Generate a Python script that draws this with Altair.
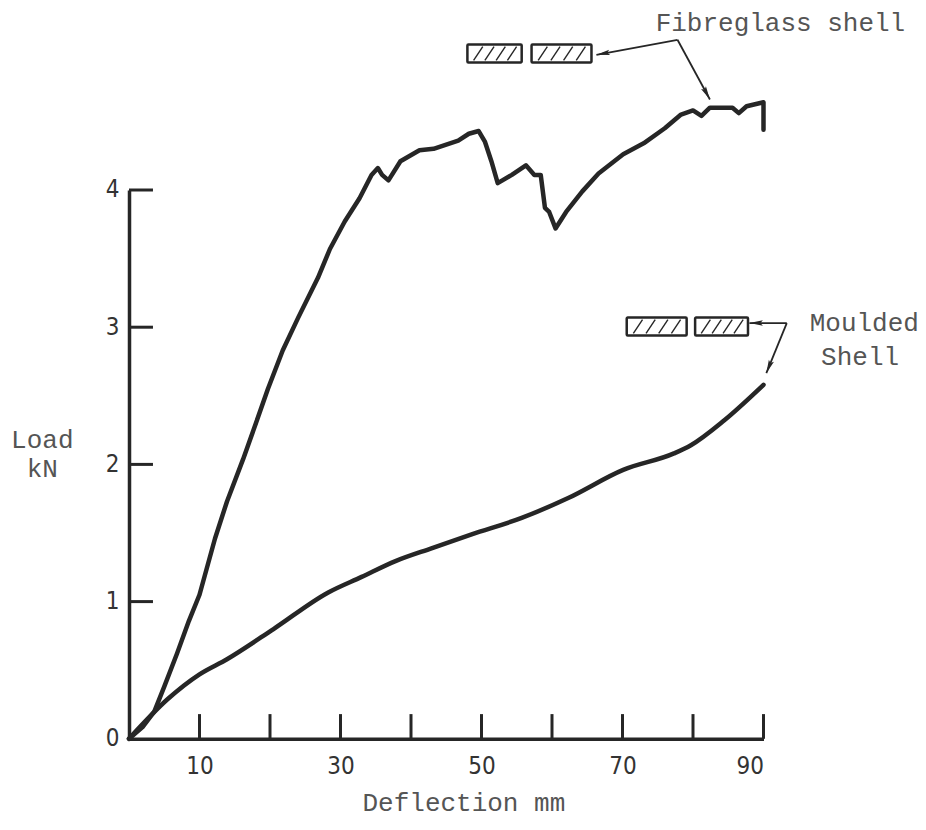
import math
import altair as alt
import pandas as pd

# ---------------- data ----------------
fib_x = [0, 2, 3.6, 5, 6.8, 8.5, 10, 12.2, 13.9, 16.2, 18, 19.7, 21.8, 24, 26.8, 28.5,
         30.6, 32.7, 34.4, 35.3, 35.9, 36.8, 38.5, 41.2, 43.2, 46.7, 48.2, 49.6, 50.5,
         51.4, 52.3, 54.3, 56.3, 57.5, 58.4, 59.0, 59.6, 60.5, 62.0, 64.3, 66.6, 70.1,
         73.0, 76.0, 78.3, 80.0, 81.2, 82.4, 84.1, 85.6, 86.5, 87.6, 90.0, 90.0]
fib_y = [0, 0.09, 0.2, 0.38, 0.62, 0.86, 1.05, 1.46, 1.73, 2.04, 2.3, 2.55, 2.83, 3.07,
         3.36, 3.57, 3.77, 3.94, 4.11, 4.16, 4.11, 4.07, 4.21, 4.29, 4.30, 4.36, 4.41,
         4.43, 4.35, 4.21, 4.05, 4.11, 4.18, 4.11, 4.11, 3.87, 3.84, 3.72, 3.84, 3.99,
         4.12, 4.26, 4.34, 4.45, 4.55, 4.58, 4.54, 4.60, 4.60, 4.60, 4.56, 4.61, 4.64, 4.44]

mou_x = [0, 5.5, 10, 13.9, 20.5, 28.2, 33, 37.8, 43, 48.6, 55.7, 62.3, 70.1, 77.3, 79.7, 84.4, 90]
mou_y = [0, 0.29, 0.47, 0.58, 0.80, 1.065, 1.18, 1.295, 1.39, 1.49, 1.61, 1.755, 1.96, 2.08, 2.14, 2.32, 2.58]

x_ticks = [10, 20, 30, 40, 50, 60, 70, 80, 90]
x_labels = [10, 30, 50, 70, 90]
y_ticks = [1, 2, 3, 4]
y_labels = [0, 1, 2, 3, 4]

# annotation boxes (mm, kN)
box_x1 = [48.0, 57.1, 70.6, 80.3]
box_x2 = [55.7, 65.6, 79.1, 87.8]
box_y1 = [4.93, 4.93, 2.94, 2.94]
box_y2 = [5.06, 5.06, 3.07, 3.07]

# arrows: start -> tip (mm, kN)
arr_x1 = [77.8, 77.8, 93.3, 93.3]
arr_y1 = [5.095, 5.095, 3.03, 3.03]
arr_x2 = [66.3, 82.4, 88.0, 90.4]
arr_y2 = [4.985, 4.66, 3.03, 2.665]

txt = ["Fibreglass shell", "Moulded", "Shell", "Load", "kN", "Deflection mm"]
txt_x = [92.4, 104.3, 103.7, -12.3, -12.3, 47.5]
txt_y = [5.22, 3.03, 2.78, 2.18, 1.965, -0.47]

# ---------------- geometry ----------------
W = 634.5      # 0..90 mm
H = 548.8      # 0..4 kN
PX_MM = W / 90
PX_KN = H / 4

INK = "#262626"
TXT = "#555555"
NUMFONT = "DejaVu Sans Condensed"
MONO = "Liberation Mono"

xs = alt.Scale(domain=[0, 90], nice=False, zero=False)
ys = alt.Scale(domain=[0, 4], nice=False, zero=False)

fib = pd.DataFrame({"x": fib_x, "y": fib_y, "o": range(len(fib_x))})
mou = pd.DataFrame({"x": mou_x, "y": mou_y, "o": range(len(mou_x))})

base_axes = alt.Chart(pd.DataFrame({"x": [0, 90], "y": [0, 4]})).mark_point(opacity=0).encode(
    x=alt.X("x:Q", scale=xs, axis=alt.Axis(values=x_labels, format="d", ticks=False, grid=False, title=None,
                                           domainColor=INK, domainWidth=3.5, labelFont=NUMFONT,
                                           labelFontSize=24, labelColor="#333333", labelPadding=16)),
    y=alt.Y("y:Q", scale=ys, axis=alt.Axis(values=y_labels, format="d", ticks=False, grid=False, title=None,
                                           domainColor=INK, domainWidth=3.5, labelFont=NUMFONT,
                                           labelFontSize=24, labelColor="#333333", labelPadding=10)),
)

fib_line = alt.Chart(fib).mark_line(color=INK, strokeWidth=4.5, strokeJoin="round", strokeCap="round").encode(
    x=alt.X("x:Q", scale=xs), y=alt.Y("y:Q", scale=ys), order="o:Q")
mou_line = alt.Chart(mou).mark_line(color=INK, strokeWidth=4.5, interpolate="monotone", strokeCap="round").encode(
    x=alt.X("x:Q", scale=xs), y=alt.Y("y:Q", scale=ys), order="o:Q")

xt = pd.DataFrame({"x": x_ticks, "y": [0] * len(x_ticks), "y2": [0.18] * len(x_ticks)})
x_tick_marks = alt.Chart(xt).mark_rule(color=INK, strokeWidth=3).encode(
    x=alt.X("x:Q", scale=xs), y=alt.Y("y:Q", scale=ys), y2="y2:Q")
yt = pd.DataFrame({"y": y_ticks, "x": [0] * len(y_ticks), "x2": [3.4] * len(y_ticks)})
y_tick_marks = alt.Chart(yt).mark_rule(color=INK, strokeWidth=3).encode(
    y=alt.Y("y:Q", scale=ys), x=alt.X("x:Q", scale=xs), x2="x2:Q")

boxes = pd.DataFrame({"x": box_x1, "x2": box_x2, "y": box_y1, "y2": box_y2})
box_marks = alt.Chart(boxes).mark_rect(fill="white", stroke=INK, strokeWidth=2.5, cornerRadius=1).encode(
    x=alt.X("x:Q", scale=xs), x2="x2:Q", y=alt.Y("y:Q", scale=ys), y2="y2:Q")

# hatching inside the boxes
hx1, hx2, hy1, hy2 = [], [], [], []
for a, b, c, d in zip(box_x1, box_x2, box_y1, box_y2):
    n = 4
    slant = 1.3
    step = (b - a - slant) / n
    for k in range(n):
        xa = a + 0.4 + k * step + step * 0.3
        hx1.append(xa)
        hx2.append(xa + slant)
        hy1.append(c + 0.015)
        hy2.append(d - 0.015)
hatch = pd.DataFrame({"x": hx1, "x2": hx2, "y": hy1, "y2": hy2})
hatch_marks = alt.Chart(hatch).mark_rule(color=INK, strokeWidth=1.4).encode(
    x=alt.X("x:Q", scale=xs), x2="x2:Q", y=alt.Y("y:Q", scale=ys), y2="y2:Q")

arr = pd.DataFrame({"x": arr_x1, "y": arr_y1, "x2": arr_x2, "y2": arr_y2})
arr["ang"] = [
    (math.degrees(math.atan2((b - a) * PX_MM, (d - c) * PX_KN)) + 360) % 360
    for a, b, c, d in zip(arr_x1, arr_x2, arr_y1, arr_y2)
]
arrow_lines = alt.Chart(arr).mark_rule(color=INK, strokeWidth=1.8).encode(
    x=alt.X("x:Q", scale=xs), x2="x2:Q", y=alt.Y("y:Q", scale=ys), y2="y2:Q")
arrow_heads = alt.Chart(arr).mark_point(
    shape="M0,0L-0.45,2.2L0,1.8L0.45,2.2Z", filled=True, color=INK, opacity=1, size=150
).encode(
    x=alt.X("x2:Q", scale=xs), y=alt.Y("y2:Q", scale=ys),
    angle=alt.Angle("ang:Q", scale=None))

texts = pd.DataFrame({"t": txt, "x": txt_x, "y": txt_y})
text_marks = alt.Chart(texts).mark_text(font=MONO, fontSize=26, color=TXT, align="center",
                                        baseline="middle").encode(
    x=alt.X("x:Q", scale=xs), y=alt.Y("y:Q", scale=ys), text="t:N")

chart = alt.layer(
    base_axes, x_tick_marks, y_tick_marks, mou_line, fib_line,
    arrow_lines, box_marks, hatch_marks, arrow_heads, text_marks
).properties(
    width=W, height=H, autosize="none",
    padding={"left": 121, "top": 182, "right": 154, "bottom": 83},
    background="white",
).configure_view(stroke=None)

chart.save("out.html", embed_options={"renderer": "svg", "actions": False})
